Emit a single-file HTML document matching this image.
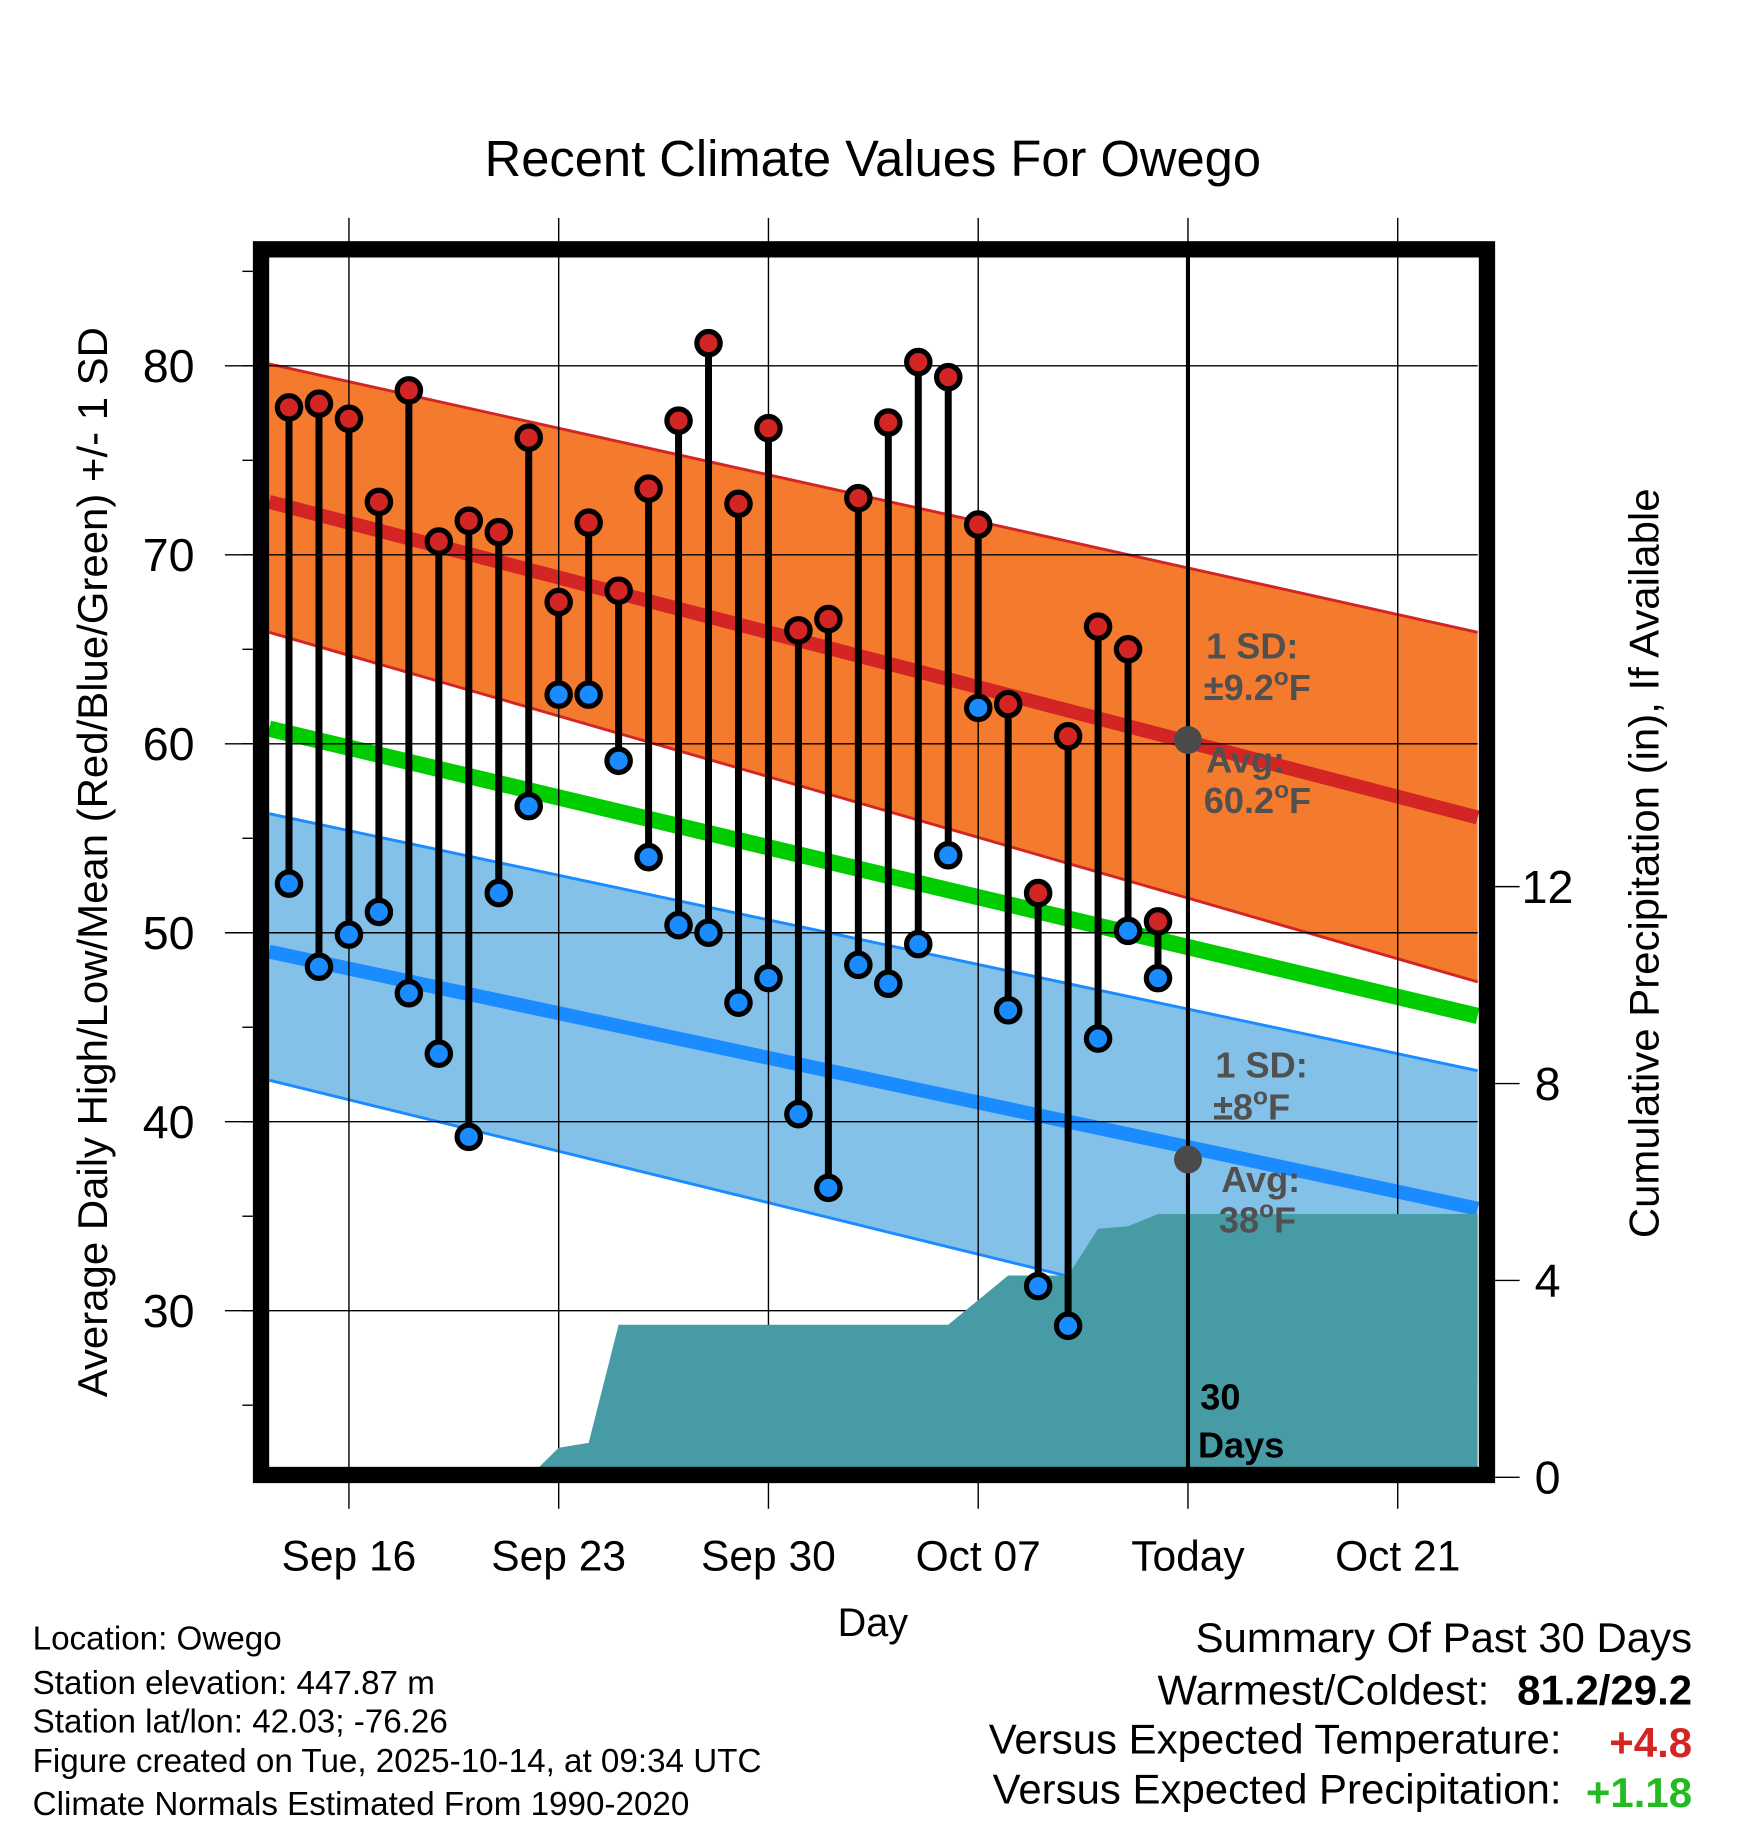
<!DOCTYPE html>
<html><head><meta charset="utf-8"><style>
html,body{margin:0;padding:0;background:#fff;}
svg{display:block;font-family:"Liberation Sans",Arial,sans-serif;}
</style></head><body>
<svg id="chart" width="1748" height="1828" viewBox="0 0 1500 1569" preserveAspectRatio="none" xmlns="http://www.w3.org/2000/svg">
<defs><clipPath id="pc"><rect x="224" y="214" width="1051" height="1052"/></clipPath></defs>
<text x="749" y="151" font-size="43.5" text-anchor="middle">Recent Climate Values For Owego</text>
<g id="plot" clip-path="url(#pc)"></g>
<g id="over"></g>
<rect x="224" y="214" width="1052" height="1052" fill="none" stroke="#000" stroke-width="14"/>
<text transform="translate(92,740) rotate(-90)" font-size="36" text-anchor="middle">Average Daily High/Low/Mean (Red/Blue/Green) +/- 1 SD</text>
<text transform="translate(1423,741) rotate(-90)" font-size="36" text-anchor="middle">Cumulative Precipitation (in), If Available</text>
<text x="749" y="1404" font-size="34" text-anchor="middle">Day</text>
<g font-size="28.5">
<text x="28" y="1416">Location: Owego</text>
<text x="28" y="1454">Station elevation: 447.87 m</text>
<text x="28" y="1487">Station lat/lon: 42.03; -76.26</text>
<text x="28" y="1521">Figure created on Tue, 2025-10-14, at 09:34 UTC</text>
<text x="28" y="1558">Climate Normals Estimated From 1990-2020</text>
</g>
<g font-size="36" text-anchor="end">
<text x="1452" y="1418">Summary Of Past 30 Days</text>
<text x="1278" y="1463">Warmest/Coldest:</text>
<text x="1452" y="1463" font-weight="bold">81.2/29.2</text>
<text x="1340" y="1505">Versus Expected Temperature:</text>
<text x="1452" y="1508" font-weight="bold" fill="#d42525">+4.8</text>
<text x="1340" y="1548">Versus Expected Precipitation:</text>
<text x="1452" y="1551" font-weight="bold" fill="#22bb22">+1.18</text>
</g>
<script>
const highs=[77.8,78,77.2,72.8,78.7,70.7,71.8,71.2,76.2,67.5,71.7,68.1,73.5,77.1,81.2,72.7,76.7,66,66.6,73,77,80.2,79.4,71.6,62.1,52.1,60.4,66.2,65,50.6];
const lows=[52.6,48.2,49.9,51.1,46.8,43.6,39.2,52.1,56.7,62.6,62.6,59.1,54,50.4,50,46.3,47.6,40.4,36.5,48.3,47.3,49.4,54.1,61.9,45.9,31.3,29.2,44.4,50.1,47.6];
const precip=[0,0,0,0,0,0,0,0,0,0.6,0.7,3.1,3.1,3.1,3.1,3.1,3.1,3.1,3.1,3.1,3.1,3.1,3.1,3.6,4.1,4.1,4.1,5.05,5.1,5.35];
const xTickLabels=["Sep 16","Sep 23","Sep 30","Oct 07","Today","Oct 21"];
const xTickDays=[2,9,16,23,30,37];
const yTicks=[30,40,50,60,70,80];
const y2Ticks=[0,4,8,12];
const normHighStart=[72.8,80.1,65.9], normHighEnd=[56.1,65.9,47.4];
const normLowStart=[49.0,56.3,42.2], normLowEnd=[35.4,42.7,26.5];
const normMean=[60.8,45.6];
const todayAvg=[60.2,38];
const NS="http://www.w3.org/2000/svg";
const X=d=>248+d*25.714;
const Y=v=>314+(80-v)*16.22;
const YP=v=>1268-v*42.25;
const XL=231,XR=1268;
const plot=document.getElementById('plot'),over=document.getElementById('over'),svg=document.getElementById('chart');
function mk(p,t,a){const e=document.createElementNS(NS,t);for(const k in a)e.setAttribute(k,a[k]);p.appendChild(e);return e;}
function band(s,e,fill,edge,mean,mw){
 const p=mk(plot,'polygon',{points:`${XL},${Y(s[1])} ${XR},${Y(e[1])} ${XR},${Y(e[2])} ${XL},${Y(s[2])}`,fill:fill});
 
 [1,2].forEach(i=>{const l=mk(plot,'line',{x1:XL,y1:Y(s[i]),x2:XR,y2:Y(e[i]),stroke:edge,'stroke-width':2.5});
  });
 const m=mk(plot,'line',{x1:XL,y1:Y(s[0]),x2:XR,y2:Y(e[0]),stroke:mean,'stroke-width':mw});
 
}
band(normHighStart,normHighEnd,'#f47a2e','#d42525','#d42525',12);
band(normLowStart,normLowEnd,'#84c1e8','#1a8cff','#1a8cff',12);
const g=mk(plot,'line',{x1:XL,y1:Y(normMean[0]),x2:XR,y2:Y(normMean[1]),stroke:'#00cc00','stroke-width':14});

const grid=document.createElementNS(NS,'g');svg.insertBefore(grid,over);
yTicks.forEach(v=>{const l=mk(grid,'line',{x1:193,y1:Y(v),x2:1268,y2:Y(v),stroke:'#000','stroke-width':1.2});
 
 const t=mk(over,'text',{x:167,y:Y(v)+14,'font-size':40,'text-anchor':'end'});t.textContent=v;
 });
for(let v=25;v<=85;v+=5){const l=mk(over,'line',{x1:208,y1:Y(v),x2:217,y2:Y(v),stroke:'#000','stroke-width':1.2});
 }
xTickDays.forEach((d,i)=>{const l=mk(grid,'line',{x1:X(d),y1:187,x2:X(d),y2:1295,stroke:'#000','stroke-width':1.2});
 
 const t=mk(over,'text',{x:X(d),y:1348,'font-size':36.5,'text-anchor':'middle'});t.textContent=xTickLabels[i];
 });
y2Ticks.forEach(v=>{const l=mk(over,'line',{x1:1283,y1:YP(v),x2:1304,y2:YP(v),stroke:'#000','stroke-width':1.2});
 
 const t=mk(over,'text',{x:1328,y:YP(v)+14,'font-size':40,'text-anchor':'middle'});t.textContent=v;
 });
let pts=`${XL},${YP(0)} `;precip.forEach((v,i)=>pts+=`${X(i)},${YP(v)} `);
pts+=`${XR},${YP(precip[precip.length-1])} ${XR},1270 ${XL},1270`;
const area=document.createElementNS(NS,'polygon');area.setAttribute('points',pts);area.setAttribute('fill','#479ba5');


over.insertBefore(area,over.firstChild);
const tl=mk(over,'line',{x1:X(30),y1:220,x2:X(30),y2:1262,stroke:'#000','stroke-width':3.5});

todayAvg.forEach(v=>{
 const c=mk(over,'circle',{cx:X(30),cy:Y(v),r:12,fill:'#4a4a4a'});
 });
function lab(x,y,txt,col,name,deg){const t=mk(over,'text',{x:x,y:y,'font-size':31,'font-weight':'bold',fill:col});
 mk(t,'tspan',{}).textContent=txt;
 if(deg){mk(t,'tspan',{dy:-13,'font-size':21}).textContent='o';mk(t,'tspan',{dy:13}).textContent='F';}
 }
lab(1035,565,'1 SD:','#505050','high-sd-label');lab(1033,601,'±9.2','#505050','high-sd-value',1);
lab(1035,663,'Avg:','#505050','high-avg-label');lab(1033,698,'60.2','#505050','high-avg-value',1);
lab(1043,925,'1 SD:','#505050','low-sd-label');lab(1041,961,'±8','#505050','low-sd-value',1);
lab(1048,1023,'Avg:','#505050','low-avg-label');lab(1046,1058,'38','#505050','low-avg-value',1);
lab(1030,1210,'30','#000','days-label');lab(1028,1251,'Days','#000','days-label-2');
highs.forEach((h,i)=>{const s=mk(over,'line',{x1:X(i),y1:Y(h),x2:X(i),y2:Y(lows[i]),stroke:'#000','stroke-width':6});
 });
highs.forEach((h,i)=>{const c=mk(over,'circle',{cx:X(i),cy:Y(h),r:10,fill:'#d42525',stroke:'#000','stroke-width':4.5});
 
 const d=mk(over,'circle',{cx:X(i),cy:Y(lows[i]),r:10,fill:'#1a8cff',stroke:'#000','stroke-width':4.5});
 });
</script>
</svg>
</body></html>
